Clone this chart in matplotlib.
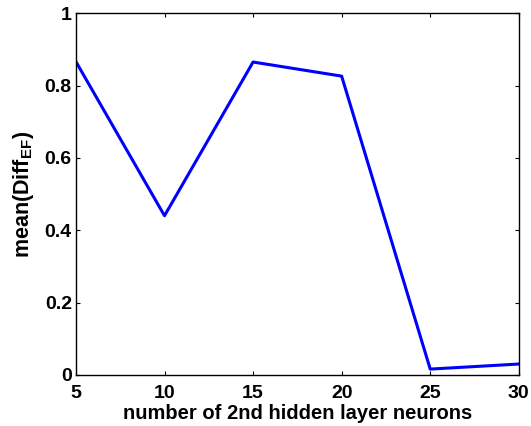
import matplotlib
matplotlib.use("Agg")
import matplotlib.pyplot as plt

# Dados
neuronios = [5, 10, 15, 20, 25, 30]
media_diff = [0.866, 0.440, 0.865, 0.826, 0.016, 0.030]

y_ticks = [0, 0.2, 0.4, 0.6, 0.8, 1]
y_rotulos = ["0", "0.2", "0.4", "0.6", "0.8", "1"]

plt.rcParams["font.family"] = ["Liberation Sans", "DejaVu Sans"]
plt.rcParams["font.weight"] = "bold"
plt.rcParams["mathtext.fontset"] = "custom"
plt.rcParams["mathtext.rm"] = "Liberation Sans:bold"
plt.rcParams["mathtext.bf"] = "Liberation Sans:bold"
plt.rcParams["mathtext.it"] = "Liberation Sans:bold"

fig = plt.figure(figsize=(5.31, 4.26), dpi=100)
ax = fig.add_axes([0.143, 0.12, 0.834, 0.849])

ax.plot(neuronios, media_diff, color="#0000ff", linewidth=2.2)

ax.set_xlim(5, 30)
ax.set_ylim(0, 1)
ax.set_xticks(neuronios)
ax.set_yticks(y_ticks)
ax.set_yticklabels(y_rotulos)

ax.tick_params(direction="in", length=3, width=0.8, top=True, right=True,
               labelsize=14)
ax.tick_params(axis="x", pad=7)
ax.tick_params(axis="y", pad=3)
for t in ax.get_xticklabels() + ax.get_yticklabels():
    t.set_fontweight("bold")

for lado in ax.spines.values():
    lado.set_linewidth(1.0)

ax.set_xlabel("number of 2nd hidden layer neurons", fontsize=14.5,
              fontweight="bold", labelpad=2)
ax.set_ylabel(r"mean(Diff$_{\mathrm{EF}}$)", fontsize=15.5,
              fontweight="bold", labelpad=6)

fig.savefig("out.png", dpi=100)
plt.close(fig)
